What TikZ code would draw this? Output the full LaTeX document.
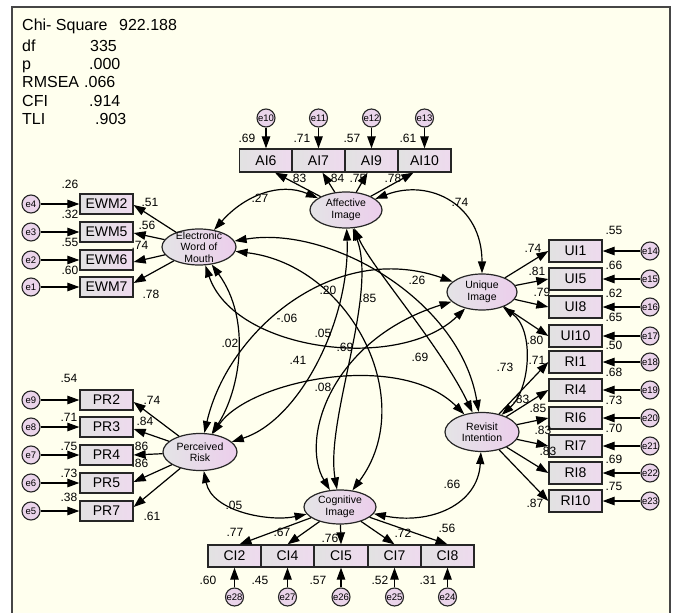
\documentclass[tikz,border=0pt]{standalone}
\usepackage{fontspec}
\setmainfont{Liberation Sans}
\usetikzlibrary{arrows.meta,shapes.geometric}
\definecolor{bg}{RGB}{255,255,238}
\definecolor{boxL}{RGB}{226,226,226}
\definecolor{boxR}{RGB}{238,218,238}
\definecolor{latL}{RGB}{228,228,230}
\definecolor{latR}{RGB}{236,206,236}
\definecolor{errC}{RGB}{234,212,234}
\definecolor{frameC}{RGB}{70,70,70}
\tikzset{
  ind/.style={draw=black!85, line width=1.3pt, left color=boxL, right color=boxR,
    minimum width=53pt, minimum height=21pt, inner sep=0pt, font=\fontsize{14}{16}\selectfont},
  lat/.style={ellipse, draw=black!85, line width=1.2pt, left color=latL, right color=latR, inner sep=0pt},
  lattext/.style={align=center, inner sep=0pt, font=\fontsize{10.5}{11.5}\selectfont},
  err/.style={circle, draw=black!85, line width=1.1pt, fill=errC, minimum size=18pt, inner sep=0pt,
    font=\fontsize{9.5}{10}\selectfont},
  lab/.style={inner sep=0pt, font=\fontsize{12}{13}\selectfont},
  stat/.style={inner sep=0pt, anchor=base west, font=\fontsize{16}{18}\selectfont},
  pth/.style={line width=1.2pt, -{Triangle[length=12pt,width=8.5pt]}},
  cov/.style={line width=1.2pt, {Triangle[length=12pt,width=8pt]}-{Triangle[length=12pt,width=8pt]}},
}
\begin{document}
\begin{tikzpicture}[x=1pt,y=-1pt]
\useasboundingbox (0,0) rectangle (673,613);
\fill[white] (0,0) rectangle (673,613);
\fill[bg] (12,7) rectangle (670,613);
\draw[frameC, line width=1.5pt] (12,614) -- (12,7) -- (670,7) -- (670,614);

% stats
\node[stat] (s1) at (22,30.5) {Chi- Square};
\node[stat] (s1v) at (119,30.5) {922.188};
\node[stat] (s2) at (22,51) {df};
\node[stat] (s2v) at (90,51) {335};
\node[stat] (s3) at (22,69.5) {p};
\node[stat] (s3v) at (89,69.5) {.000};
\node[stat] (s4) at (22,87.5) {RMSEA};
\node[stat] (s4v) at (84,87.5) {.066};
\node[stat] (s5) at (22,106) {CFI};
\node[stat] (s5v) at (89,106) {.914};
\node[stat] (s6) at (22,124.5) {TLI};
\node[stat] (s6v) at (95,124.5) {.903};

% latent variables
\node[lat, minimum width=74pt, minimum height=36pt] (EWM) at (199,247) {};
\node[lattext] (EWMt) at (199,247) {Electronic\\Word of\\Mouth};
\node[lat, minimum width=72pt, minimum height=36pt] (AI) at (346,210) {};
\node[lattext] (AIt) at (346,210) {Affective\\Image};
\node[lat, minimum width=70pt, minimum height=36pt] (UI) at (482,292) {};
\node[lattext] (UIt) at (482,292) {Unique\\Image};
\node[lat, minimum width=74pt, minimum height=37pt] (PR) at (200,452) {};
\node[lattext] (PRt) at (200,452) {Perceived\\Risk};
\node[lat, minimum width=72pt, minimum height=34pt] (CI) at (340,507) {};
\node[lattext] (CIt) at (340,507) {Cognitive\\Image};
\node[lat, minimum width=74pt, minimum height=39pt] (RI) at (482,432) {};
\node[lattext] (RIt) at (482,432) {Revisit\\Intention};

% EWM indicators
\foreach \n/\y/\e in {EWM2/204/e4, EWM5/232/e3, EWM6/260/e2, EWM7/287/e1}{
  \node[ind, minimum height=20pt] (\n) at (106.5,\y) {\n};
  \node[err] (\e) at (31,\y) {\e};
  \draw[pth] (\e) -- (\n);
}
\draw[pth] (EWM) -- ([yshift=-1pt]EWM2.east);
\draw[pth] (EWM) -- ([yshift=-1pt]EWM5.east);
\draw[pth] (EWM) -- ([yshift=-2pt]EWM6.east);
\draw[pth] (EWM) -- ([yshift=4pt]EWM7.east);
% PR indicators
\foreach \n/\y/\e in {PR2/400/e9, PR3/427/e8, PR4/455/e7, PR5/483/e6, PR7/511/e5}{
  \node[ind, minimum height=20pt] (\n) at (106.5,\y) {\n};
  \node[err] (\e) at (31,\y) {\e};
  \draw[pth] (\e) -- (\n);
}
\draw[pth] (PR) -- ([yshift=-2pt]PR2.east);
\draw[pth] (PR) -- ([yshift=-2pt]PR3.east);
\draw[pth] (PR) -- (PR4.east);
\draw[pth] (PR) -- ([yshift=1pt]PR5.east);
\draw[pth] (PR) -- ([yshift=4pt]PR7.east);
% AI indicators
\foreach \n/\x/\e in {AI6/266/e10, AI7/318.5/e11, AI9/371.5/e12, AI10/424.5/e13}{
  \node[ind, minimum height=23pt] (\n) at (\x,160.5) {\n};
  \node[err] (\e) at (\x,118) {\e};
  \draw[pth] (\e) -- (\n);
}
\draw[pth] (AI) -- ([xshift=9pt]AI6.south);
\draw[pth] (AI) -- ([xshift=4pt]AI7.south);
\draw[pth] (AI) -- ([xshift=-4pt]AI9.south);
\draw[pth] (AI) -- ([xshift=-11pt]AI10.south);
% UI / RI indicators
\foreach \n/\y/\e/\L in {UI1/251/e14/UI, UI5/279/e15/UI, UI8/307/e16/UI, UI10/336/e17/UI,
  RI1/362/e18/RI, RI4/390/e19/RI, RI6/418/e20/RI, RI7/446/e21/RI, RI8/473/e22/RI, RI10/501/e23/RI}{
  \node[ind, minimum height=22pt] (\n) at (575.5,\y) {\n};
  \node[err] (\e) at (650,\y) {\e};
  \draw[pth] (\e) -- (\n);
  \draw[pth] (\L) -- (\n.west);
}
% CI indicators
\foreach \n/\x/\e in {CI2/234.5/e28, CI4/287.5/e27, CI5/341/e26, CI7/394.5/e25, CI8/447.5/e24}{
  \node[ind, minimum height=22pt] (\n) at (\x,556) {\n};
  \node[err] (\e) at (\x,597) {\e};
  \draw[pth] (\e) -- (\n);
}
\draw[pth] (CI) -- ([xshift=5pt]CI2.north);
\draw[pth] (CI) -- (CI4.north);
\draw[pth] (CI) -- (CI5.north);
\draw[pth] (CI) -- (CI7.north);
\draw[pth] (CI) -- (CI8.north);

% covariances
\draw[cov] (EWM) .. controls (245,195) and (280,182) .. (AI);            % .27
\draw[cov] (AI) .. controls (430,178) and (482,205) .. (UI);             % .74
\draw[cov] (UI) .. controls (535,330) and (530,390) .. (RI);             % .73
\draw[cov] (CI) .. controls (430,525) and (478,505) .. (RI);             % .66
\draw[cov] (PR) .. controls (212,512) and (270,522) .. (CI);             % .05
\draw[cov] (EWM) .. controls (252,320) and (240,390) .. (PR);            % .02
\draw[cov] (AI) .. controls (378,295) and (325,420) .. (CI);             % .85
\draw[cov] (AI) .. controls (350,320) and (300,420) .. (PR);             % .20
\draw[cov] (AI) .. controls (372,268) and (440,345) .. (RI);             % .69
\draw[cov] (EWM) .. controls (330,225) and (460,300) .. (RI);            % EWM-RI
\draw[cov] (EWM) .. controls (235,352) and (400,372) .. (UI);            % EWM-UI
\draw[cov] (EWM) .. controls (350,265) and (420,400) .. (CI);            % EWM-CI
\draw[cov] (UI) .. controls (335,240) and (228,330) .. (PR);             % .26
\draw[cov] (UI) .. controls (330,340) and (300,440) .. (CI);             % UI-CI
\draw[cov] (PR) .. controls (250,380) and (400,350) .. (RI);             % .08

% labels: EWM
\node[lab] (v1) at (70,184) {.26};
\node[lab] (v2) at (70,214) {.32};
\node[lab] (v3) at (70,242) {.55};
\node[lab] (v4) at (70,270) {.60};
\node[lab] (w1) at (150,202) {.51};
\node[lab] (w2) at (147,225) {.56};
\node[lab] (w3) at (140,245) {.74};
\node[lab] (w4) at (151,294) {.78};
% PR
\node[lab] (v5) at (69,378) {.54};
\node[lab] (v6) at (69,417) {.71};
\node[lab] (v7) at (69,446) {.75};
\node[lab] (v8) at (69,473) {.73};
\node[lab] (v9) at (69,497) {.38};
\node[lab] (w5) at (152,400) {.74};
\node[lab] (w6) at (145,421) {.84};
\node[lab] (w7) at (140,446) {.86};
\node[lab] (w8) at (140,463) {.86};
\node[lab] (w9) at (152,516) {.61};
% AI
\node[lab] (v10) at (247,138) {.69};
\node[lab] (v11) at (302,138) {.71};
\node[lab] (v12) at (352,138) {.57};
\node[lab] (v13) at (408,138) {.61};
\node[lab] (w10) at (298,178) {.83};
\node[lab] (w11) at (336,178) {.84};
\node[lab] (w12) at (358,178) {.75};
\node[lab] (w13) at (393,178) {.78};
% UI/RI
\node[lab] (v14) at (614,230) {.55};
\node[lab] (v15) at (614,265) {.66};
\node[lab] (v16) at (614,293) {.62};
\node[lab] (v17) at (614,317) {.65};
\node[lab] (v18) at (614,345) {.50};
\node[lab] (v19) at (614,372) {.68};
\node[lab] (v20) at (614,400) {.73};
\node[lab] (v21) at (614,428) {.70};
\node[lab] (v22) at (614,459) {.69};
\node[lab] (v23) at (614,486) {.75};
\node[lab] (w14) at (533,248) {.74};
\node[lab] (w15) at (537,271) {.81};
\node[lab] (w16) at (542,292) {.79};
\node[lab] (w17) at (535,340) {.80};
\node[lab] (w18) at (537,360) {.71};
\node[lab] (w19) at (521,399) {.83};
\node[lab] (w20) at (538,408) {.85};
\node[lab] (w21) at (543,430) {.83};
\node[lab] (w22) at (548,451) {.83};
\node[lab] (w23) at (535,503) {.87};
% CI
\node[lab] (v24) at (208,580) {.60};
\node[lab] (v25) at (260,580) {.45};
\node[lab] (v26) at (318,580) {.57};
\node[lab] (v27) at (380,580) {.52};
\node[lab] (v28) at (428,580) {.31};
\node[lab] (w24) at (235,532) {.77};
\node[lab] (w25) at (282,532) {.67};
\node[lab] (w26) at (330,538) {.76};
\node[lab] (w27) at (403,533) {.72};
\node[lab] (w28) at (447,528) {.56};
% covariance labels
\node[lab] (c1) at (260,198) {.27};
\node[lab] (c2) at (460,202) {.74};
\node[lab] (c3) at (505,367) {.73};
\node[lab] (c4) at (452,484) {.66};
\node[lab] (c5) at (234,505) {.05};
\node[lab] (c6) at (230,343) {.02};
\node[lab] (c7) at (328,290) {.20};
\node[lab] (c8) at (287,318) {-.06};
\node[lab] (c9) at (323,333) {.05};
\node[lab] (c10) at (345,347) {.69};
\node[lab] (c11) at (368,298) {.85};
\node[lab] (c12) at (420,357) {.69};
\node[lab] (c13) at (298,360) {.41};
\node[lab] (c14) at (323,387) {.08};
\node[lab] (c15) at (417,280) {.26};
\end{tikzpicture}
\end{document}
